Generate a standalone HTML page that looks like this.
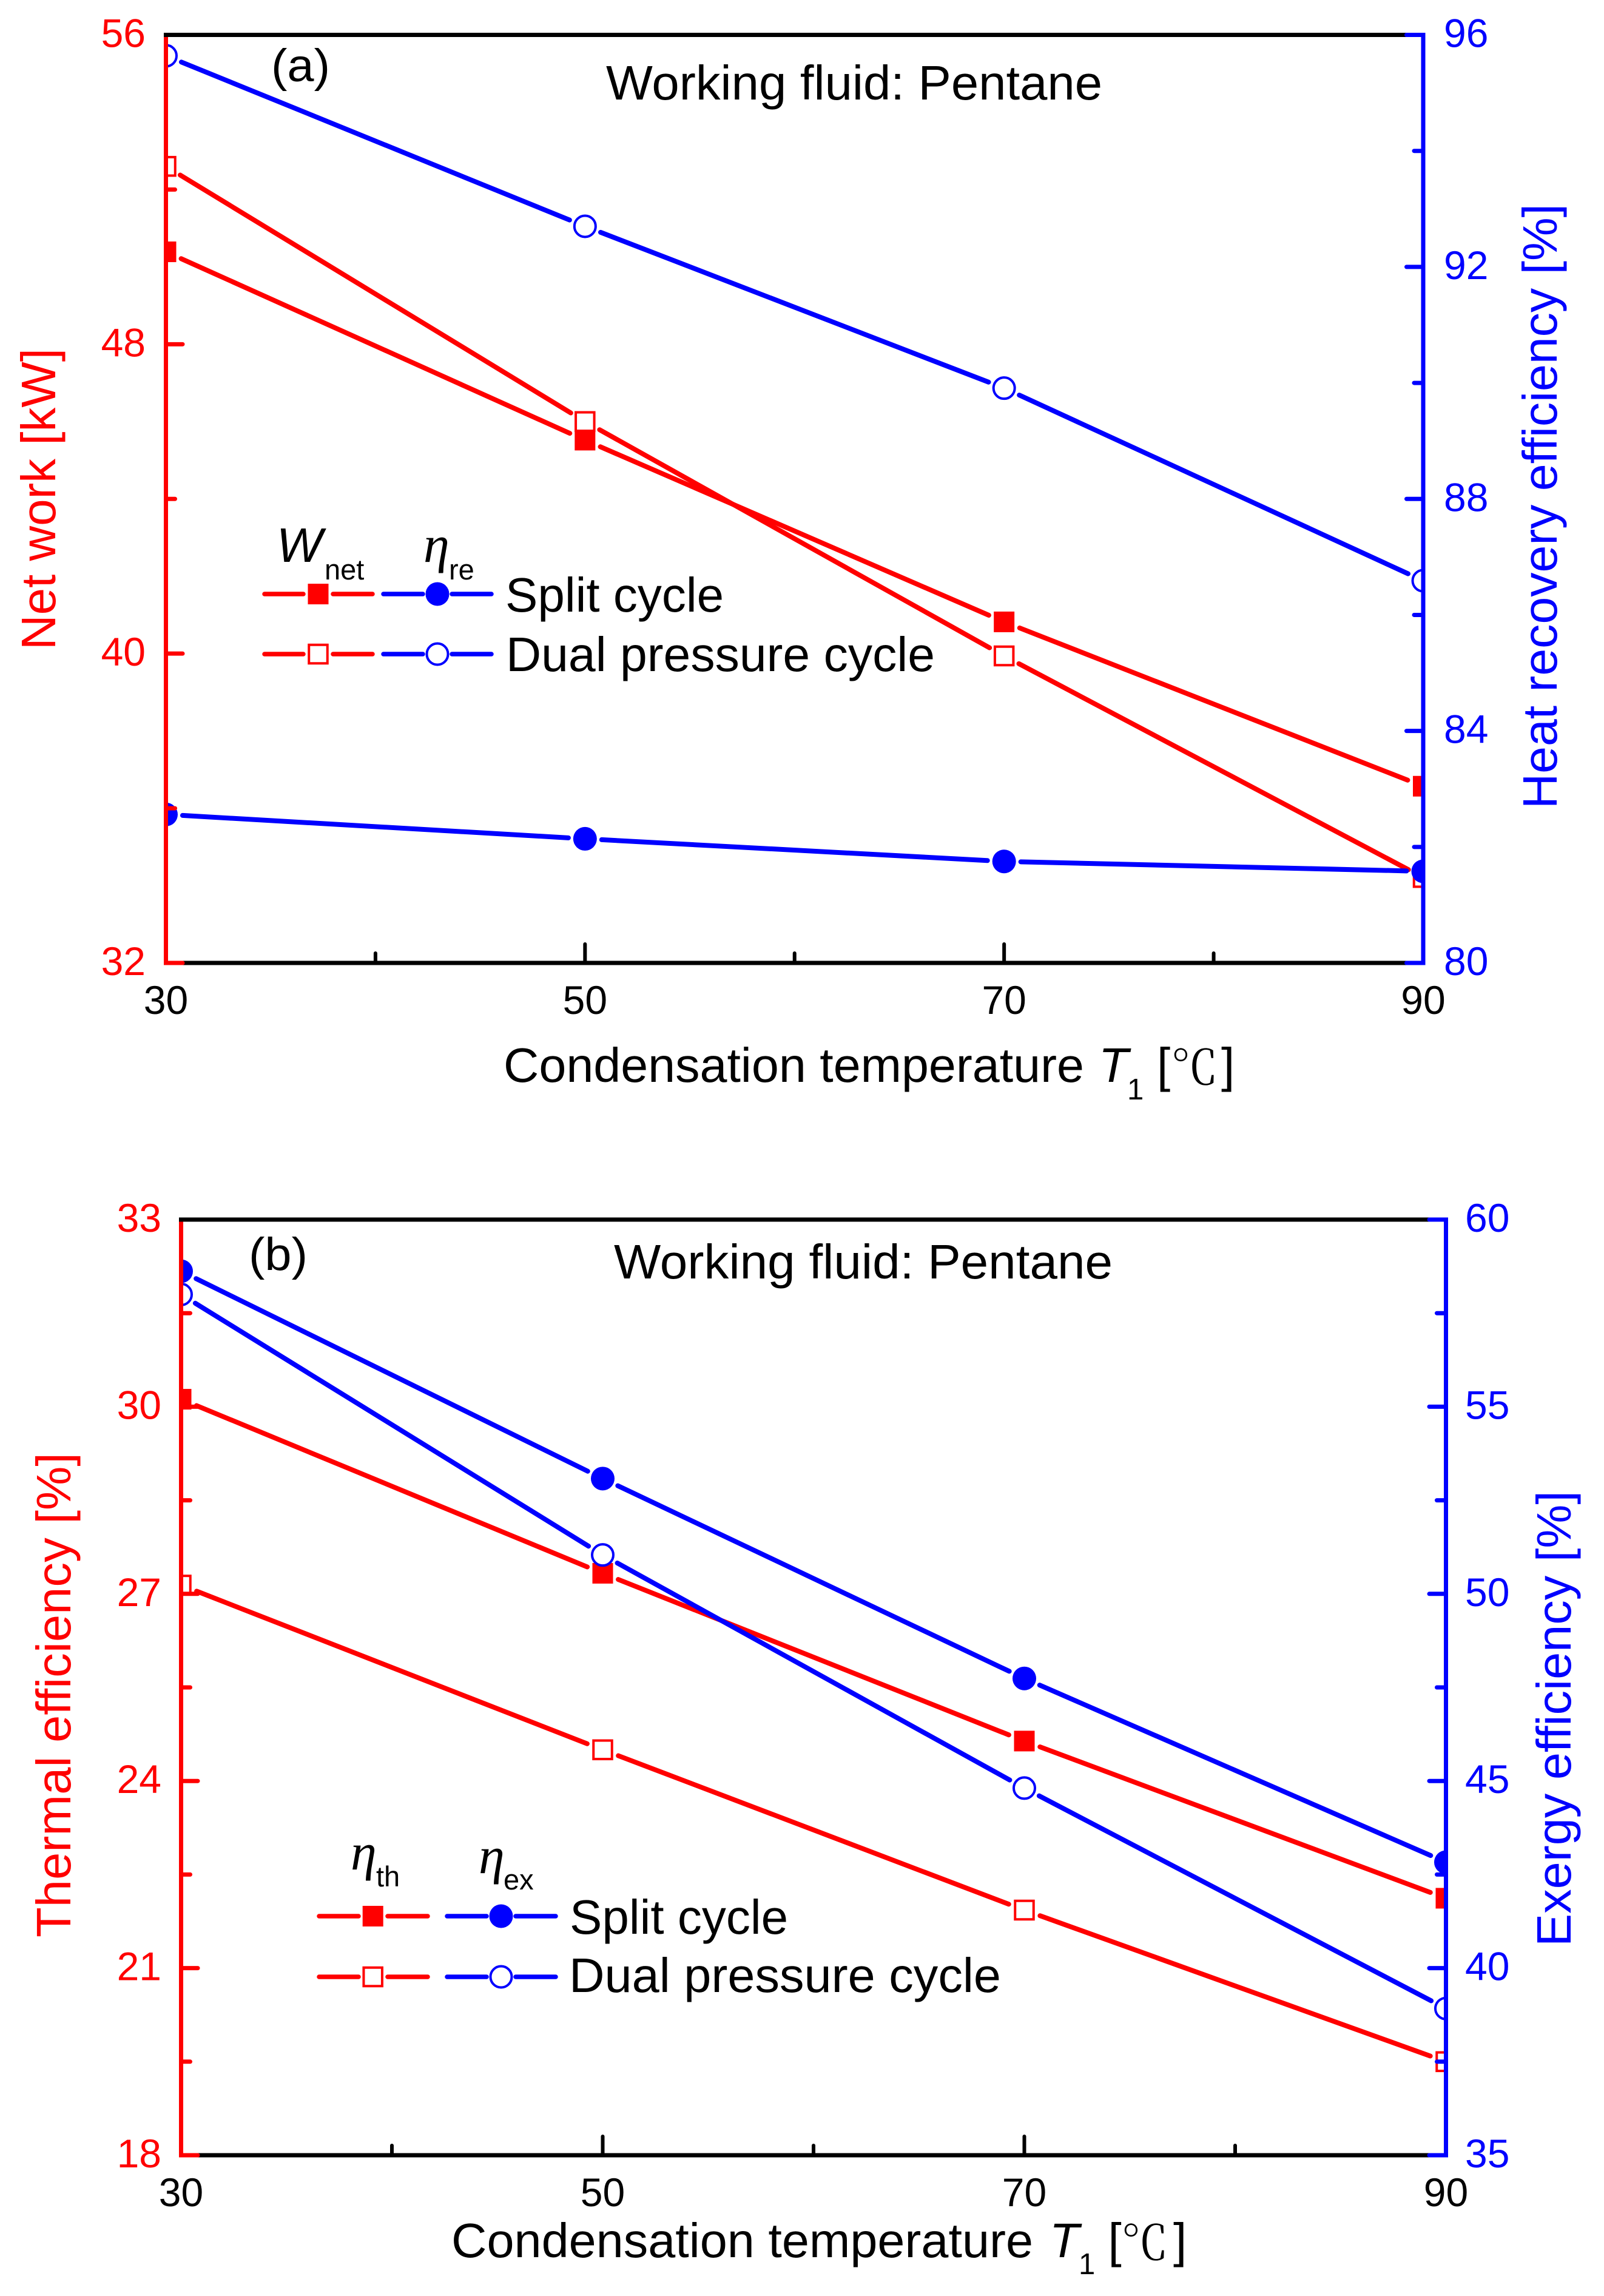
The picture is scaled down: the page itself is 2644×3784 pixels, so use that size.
<!DOCTYPE html>
<html lang="en">
<head>
<meta charset="utf-8">
<title>Split and dual pressure cycle performance vs condensation temperature</title>
<style>
html,body{margin:0;padding:0;background:#fff;}
svg{display:block;}
text{font-family:"Liberation Sans","Noto Sans CJK SC",sans-serif;}
.ser{font-family:"Noto Serif CJK SC","Liberation Serif",serif;}
.eta{font-family:"Liberation Serif","DejaVu Serif",serif;font-style:italic;}
</style>
</head>
<body>
<svg id="figure" xmlns="http://www.w3.org/2000/svg" width="2644" height="3784" viewBox="0 0 2644 3784">
<rect x="0" y="0" width="2644" height="3784" fill="#fff"/>
<defs>
<clipPath id="clip-a"><rect x="273.500" y="57.500" width="2072.500" height="1529.500"/></clipPath>
<clipPath id="clip-b"><rect x="298.500" y="2010" width="2085" height="1542"/></clipPath>
</defs>
<g id="panel-a"></g>
<g id="panel-b"></g>

<g>
<text x="447" y="134" font-size="76" textLength="97" lengthAdjust="spacingAndGlyphs">(a)</text>
<text x="999" y="164" font-size="80" textLength="818" lengthAdjust="spacingAndGlyphs">Working fluid: Pentane</text>
<text transform="translate(91,1071) rotate(-90)" font-size="80" fill="#f00" textLength="497" lengthAdjust="spacingAndGlyphs">Net work [kW]</text>
<text transform="translate(2566,1333) rotate(-90)" font-size="80" fill="#00f" textLength="997" lengthAdjust="spacingAndGlyphs">Heat recovery efficiency [%]</text>
<text x="830" y="1783" font-size="80" textLength="957" lengthAdjust="spacingAndGlyphs">Condensation temperature</text>
<text x="1811" y="1783" font-size="80" font-style="italic">T</text>
<text x="1858" y="1812" font-size="49">1</text>
<text x="1907" y="1783" font-size="80">[</text>
<text class="ser" x="1930" y="1787" font-size="78">℃</text>
<text x="2013" y="1783" font-size="80">]</text>
</g>

<g>
<text x="456" y="926" font-size="80" font-style="italic">W</text>
<text x="535" y="955" font-size="47">net</text>
<text class="eta" x="698" y="926" font-size="86">η</text>
<text x="740" y="955" font-size="47">re</text>
<g fill="none" stroke-width="7.500" stroke-linecap="round">
<path stroke="#f00" d="M436 979H500M549 979H614"/>
<path stroke="#00f" d="M632 979H697M745 979H810"/>
<path stroke="#f00" d="M436 1078H500M549 1078H614"/>
<path stroke="#00f" d="M632 1078H697M745 1078H810"/>
</g>
<rect x="507.500" y="962" width="34" height="34" fill="#f00"/>
<circle cx="721" cy="979" r="19.500" fill="#00f"/>
<rect x="509.250" y="1062.750" width="30.500" height="30.500" fill="#fff" stroke="#f00" stroke-width="4"/>
<circle cx="721" cy="1078" r="17.500" fill="#fff" stroke="#00f" stroke-width="4"/>
<text x="833" y="1008" font-size="80">Split cycle</text>
<text x="834" y="1106" font-size="80" textLength="707" lengthAdjust="spacingAndGlyphs">Dual pressure cycle</text>
</g>

<g>
<text x="410" y="2093" font-size="76" textLength="97" lengthAdjust="spacingAndGlyphs">(b)</text>
<text x="1012" y="2107" font-size="80" textLength="822" lengthAdjust="spacingAndGlyphs">Working fluid: Pentane</text>
<text transform="translate(116,3193) rotate(-90)" font-size="80" fill="#f00" textLength="799" lengthAdjust="spacingAndGlyphs">Thermal efficiency [%]</text>
<text transform="translate(2589,3208) rotate(-90)" font-size="80" fill="#00f" textLength="751" lengthAdjust="spacingAndGlyphs">Exergy efficiency [%]</text>
<text x="744" y="3720" font-size="80" textLength="959" lengthAdjust="spacingAndGlyphs">Condensation temperature</text>
<text x="1730" y="3720" font-size="80" font-style="italic">T</text>
<text x="1778" y="3748" font-size="49">1</text>
<text x="1826.500" y="3720" font-size="80">[</text>
<text class="ser" x="1848" y="3724" font-size="78">℃</text>
<text x="1934" y="3720" font-size="80">]</text>
</g>

<g>
<text class="eta" x="578" y="3081" font-size="86">η</text>
<text x="620" y="3109" font-size="47">th</text>
<text class="eta" x="789" y="3087" font-size="86">η</text>
<text x="830" y="3114" font-size="47">ex</text>
<g fill="none" stroke-width="7.500" stroke-linecap="round">
<path stroke="#f00" d="M526 3158H591M639 3158H705"/>
<path stroke="#00f" d="M737 3158H802M850 3158H916"/>
<path stroke="#f00" d="M526 3258H591M639 3258H705"/>
<path stroke="#00f" d="M737 3258H802M850 3258H916"/>
</g>
<rect x="597.700" y="3141" width="34" height="34" fill="#f00"/>
<circle cx="826" cy="3158" r="19.500" fill="#00f"/>
<rect x="599.450" y="3242.750" width="30.500" height="30.500" fill="#fff" stroke="#f00" stroke-width="4"/>
<circle cx="826" cy="3258" r="17.500" fill="#fff" stroke="#00f" stroke-width="4"/>
<text x="939" y="3187" font-size="80">Split cycle</text>
<text x="938" y="3283" font-size="80" textLength="712" lengthAdjust="spacingAndGlyphs">Dual pressure cycle</text>
</g>
</svg>

<script>
// Shared x axis
const xCategories = [30, 50, 70, 90];
const xMinorTicks = [40, 60, 80];

// Panel (a) values
const panelANetWorkSplit = [50.39, 45.52, 40.82, 36.57];
const panelANetWorkDual = [52.60, 46.00, 39.94, 34.21];
const panelAHeatRecoverySplit = [82.56, 82.14, 81.75, 81.58];
const panelAHeatRecoveryDual = [95.64, 92.70, 89.91, 86.59];
const panelALeftTicks = [32, 40, 48, 56];
const panelALeftMinor = [36, 44, 52];
const panelARightTicks = [80, 84, 88, 92, 96];
const panelARightMinor = [82, 86, 90, 94];

// Panel (b) values
const panelBThermalSplit = [30.12, 27.33, 24.64, 22.12];
const panelBThermalDual = [27.14, 24.50, 21.93, 19.50];
const panelBExergySplit = [58.62, 53.08, 47.74, 42.83];
const panelBExergyDual = [58.00, 51.04, 44.81, 38.92];
const panelBLeftTicks = [18, 21, 24, 27, 30, 33];
const panelBLeftMinor = [19.5, 22.5, 25.5, 28.5, 31.5];
const panelBRightTicks = [35, 40, 45, 50, 55, 60];
const panelBRightMinor = [37.5, 42.5, 47.5, 52.5, 57.5];

const NS = 'http://www.w3.org/2000/svg';
const RED = '#f00';
const BLUE = '#00f';

function make(parent, tag, props, text) {
  const el = document.createElementNS(NS, tag);
  for (const key in props) el.setAttribute(key, props[key]);
  if (text !== undefined) el.textContent = text;
  parent.appendChild(el);
  return el;
}

function linearScale(d0, d1, r0, r1) {
  return function (v) { return r0 + (v - d0) / (d1 - d0) * (r1 - r0); };
}

function drawSeries(group, clipId, xs, ys, color, kind, filled, label) {
  const g = make(group, 'g', { 'clip-path': 'url(#' + clipId + ')' });
  
  
  const gap = 27.5;
  for (let i = 0; i < xs.length - 1; i++) {
    const x0 = xs[i], y0 = ys[i], x1 = xs[i + 1], y1 = ys[i + 1];
    const len = Math.hypot(x1 - x0, y1 - y0);
    const ux = (x1 - x0) / len, uy = (y1 - y0) / len;
    const seg = make(g, 'line', {
      x1: x0 + ux * gap, y1: y0 + uy * gap, x2: x1 - ux * gap, y2: y1 - uy * gap,
      stroke: color, 'stroke-width': 8, 'stroke-linecap': 'round'
    });
    
    
  }
  for (let i = 0; i < xs.length; i++) {
    let mark;
    if (kind === 'square') {
      const size = filled ? 34 : 30.5;
      mark = make(g, 'rect', {
        x: xs[i] - size / 2, y: ys[i] - size / 2, width: size, height: size,
        fill: filled ? color : '#fff', stroke: filled ? 'none' : color, 'stroke-width': 4
      });
    } else {
      mark = make(g, 'circle', {
        cx: xs[i], cy: ys[i], r: filled ? 19.5 : 17.5,
        fill: filled ? color : '#fff', stroke: filled ? 'none' : color, 'stroke-width': 4
      });
    }
    
    
  }
}

function drawYAxis(group, x, side, scale, ticks, minor, color, labelX, axisName, topY, bottomY) {
  const g = make(group, 'g', {});
  
  
  const spine = make(g, 'line', { x1: x, x2: x, y1: topY - 3.5, y2: bottomY + 3.5, stroke: color, 'stroke-width': 7 });
  
  
  ticks.forEach(function (v) {
    const y = scale(v);
    const tick = make(g, 'line', { x1: x, x2: x + side * 27.5, y1: y, y2: y, stroke: color, 'stroke-width': 7, 'stroke-linecap': 'round' });
    
    
    const lab = make(g, 'text', {
      x: labelX, y: y + 20, 'font-size': 66, fill: color,
      'text-anchor': side > 0 ? 'end' : 'start'
    }, String(v));
    
    
  });
  minor.forEach(function (v) {
    const y = scale(v);
    const tick = make(g, 'line', { x1: x, x2: x + side * 15, y1: y, y2: y, stroke: color, 'stroke-width': 7, 'stroke-linecap': 'round' });
    
    
  });
}

function drawPanel(cfg) {
  const group = document.getElementById(cfg.id);
  const xScale = linearScale(xCategories[0], xCategories[xCategories.length - 1], cfg.left, cfg.right);
  const leftScale = linearScale(cfg.leftTicks[0], cfg.leftTicks[cfg.leftTicks.length - 1], cfg.bottom, cfg.top);
  const rightScale = linearScale(cfg.rightTicks[0], cfg.rightTicks[cfg.rightTicks.length - 1], cfg.bottom, cfg.top);
  const xs = xCategories.map(xScale);

  drawSeries(group, cfg.clip, xs, cfg.leftDual.map(leftScale), RED, 'square', false, cfg.names[0]);
  drawSeries(group, cfg.clip, xs, cfg.leftSplit.map(leftScale), RED, 'square', true, cfg.names[1]);
  drawSeries(group, cfg.clip, xs, cfg.rightDual.map(rightScale), BLUE, 'circle', false, cfg.names[2]);
  drawSeries(group, cfg.clip, xs, cfg.rightSplit.map(rightScale), BLUE, 'circle', true, cfg.names[3]);

  const bottomLine = make(group, 'line', { x1: cfg.left, x2: cfg.right, y1: cfg.bottom, y2: cfg.bottom, stroke: '#000', 'stroke-width': 7 });
  
  

  xCategories.forEach(function (v) {
    const x = xScale(v);
    if (v !== xCategories[0] && v !== xCategories[xCategories.length - 1]) {
      const tick = make(group, 'line', { x1: x, x2: x, y1: cfg.bottom, y2: cfg.bottom - 31, stroke: '#000', 'stroke-width': 6, 'stroke-linecap': 'round' });
      
      
    }
    const lab = make(group, 'text', { x: x, y: cfg.xLabelY, 'font-size': 66, 'text-anchor': 'middle' }, String(v));
    
    
  });
  xMinorTicks.forEach(function (v) {
    const x = xScale(v);
    const tick = make(group, 'line', { x1: x, x2: x, y1: cfg.bottom, y2: cfg.bottom - 16, stroke: '#000', 'stroke-width': 6, 'stroke-linecap': 'round' });
    
    
  });

  drawYAxis(group, cfg.left, 1, leftScale, cfg.leftTicks, cfg.leftMinor, RED, cfg.leftLabelX, 'left-y-axis', cfg.top, cfg.bottom);

  const topLine = make(group, 'line', { x1: cfg.left - 3.5, x2: cfg.right, y1: cfg.top, y2: cfg.top, stroke: '#000', 'stroke-width': 7 });
  
  

  drawYAxis(group, cfg.right, -1, rightScale, cfg.rightTicks, cfg.rightMinor, BLUE, cfg.rightLabelX, 'right-y-axis', cfg.top, cfg.bottom);
}

drawPanel({
  id: 'panel-a', clip: 'clip-a',
  left: 273.5, right: 2346, top: 57.5, bottom: 1587,
  xLabelY: 1671, leftLabelX: 240, rightLabelX: 2380,
  leftTicks: panelALeftTicks, leftMinor: panelALeftMinor,
  rightTicks: panelARightTicks, rightMinor: panelARightMinor,
  leftSplit: panelANetWorkSplit, leftDual: panelANetWorkDual,
  rightSplit: panelAHeatRecoverySplit, rightDual: panelAHeatRecoveryDual,
  names: ['net-work-dual-series', 'net-work-split-series', 'heat-recovery-dual-series', 'heat-recovery-split-series']
});

drawPanel({
  id: 'panel-b', clip: 'clip-b',
  left: 298.5, right: 2383.5, top: 2010, bottom: 3552,
  xLabelY: 3636, leftLabelX: 266, rightLabelX: 2415,
  leftTicks: panelBLeftTicks, leftMinor: panelBLeftMinor,
  rightTicks: panelBRightTicks, rightMinor: panelBRightMinor,
  leftSplit: panelBThermalSplit, leftDual: panelBThermalDual,
  rightSplit: panelBExergySplit, rightDual: panelBExergyDual,
  names: ['thermal-dual-series', 'thermal-split-series', 'exergy-dual-series', 'exergy-split-series']
});
</script>
</body>
</html>
